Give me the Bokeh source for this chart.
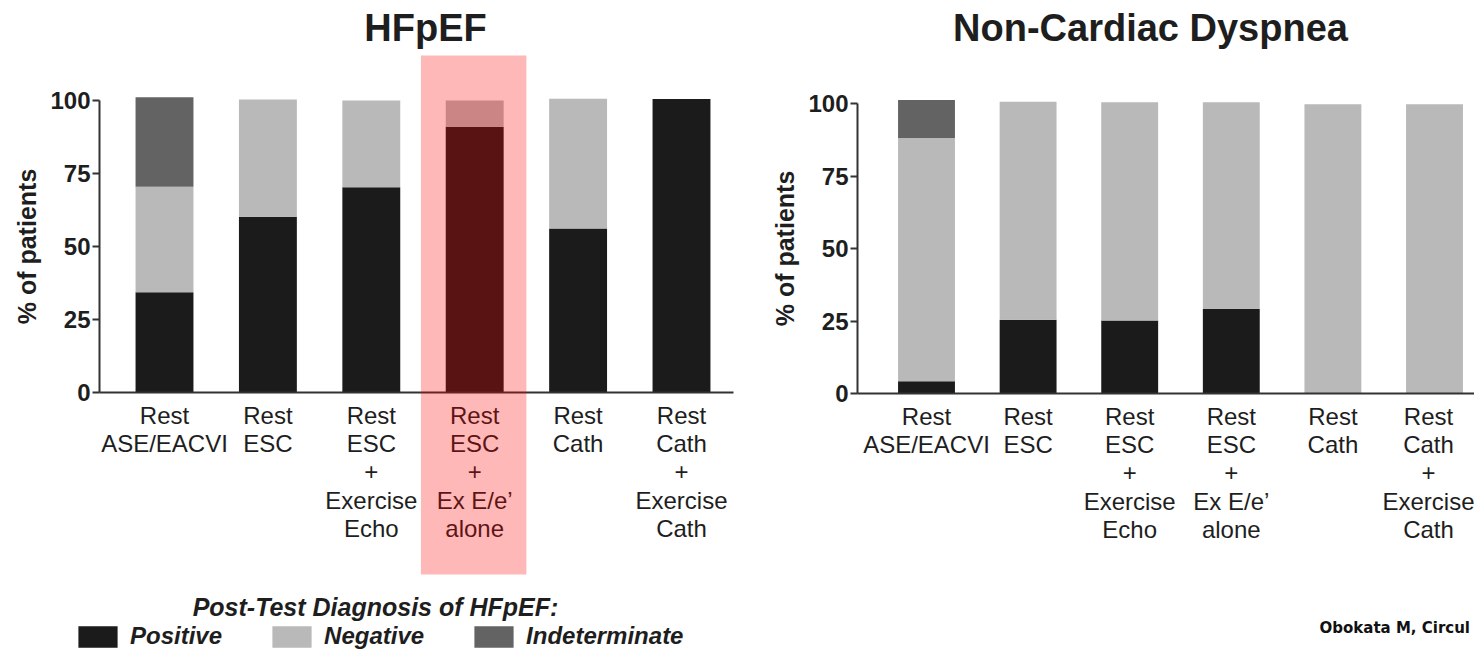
from bokeh.plotting import figure
from bokeh.layouts import row
from bokeh.models import (ColumnDataSource, FixedTicker, BoxAnnotation, Label,
                          Legend, LegendItem, Range1d)
from bokeh.embed import file_html
from bokeh.resources import INLINE

# ---------------- data ----------------
categories = [
    "Rest\nASE/EACVI",
    "Rest\nESC",
    "Rest\nESC\n+\nExercise\nEcho",
    "Rest\nESC\n+\nEx E/e\u2019\nalone",
    "Rest\nCath",
    "Rest\nCath\n+\nExercise\nCath",
]
series = ["Positive", "Negative", "Indeterminate"]
series_colors = ["#1b1b1b", "#b9b9b9", "#636363"]

hfpef_positive = [34.3, 60.2, 70.3, 91.0, 56.2, 100.5]
hfpef_negative = [36.2, 40.1, 29.7, 9.0, 44.4, 0.0]
hfpef_indeterminate = [30.6, 0.0, 0.0, 0.0, 0.0, 0.0]

ncd_positive = [4.2, 25.4, 25.2, 29.1, 0.0, 0.0]
ncd_negative = [83.9, 75.2, 75.2, 71.3, 99.7, 99.7]
ncd_indeterminate = [13.1, 0.0, 0.0, 0.0, 0.0, 0.0]

y_ticks = [0, 25, 50, 75, 100]
highlight_category = 3  # "Rest ESC + Ex E/e' alone" in the HFpEF panel

# ---------------- layout constants (pixels) ----------------
FONT = "Liberation Sans"
AXIS_COLOR = "#333333"
TEXT_COLOR = "#1e1e1e"
H = 650


class Geo:
    """Maps canvas pixels to data units for one panel."""
    def __init__(self, width, first_center_px, step_px, zero_px, px_per_unit):
        self.width, self.c0, self.step = width, first_center_px, step_px
        self.y0, self.ppu = zero_px, px_per_unit

    def x(self, px):
        return (px - self.c0) / self.step

    def y(self, px):
        return (self.y0 - px) / self.ppu


def make_panel(g, pos, neg, ind, axis_left_px, axis_right_px):
    xs = list(range(len(categories)))
    src = ColumnDataSource(dict(x=xs, Positive=pos, Negative=neg, Indeterminate=ind))
    p = figure(width=g.width, height=H, output_backend="svg", toolbar_location=None,
               x_range=Range1d(g.x(0), g.x(g.width)), y_range=Range1d(g.y(H), g.y(0)),
               min_border=0)
    p.outline_line_color = None
    p.grid.visible = False
    p.background_fill_color = "white"
    p.border_fill_color = "white"

    rs = p.vbar_stack(series, x="x", width=0.56, source=src,
                      fill_color=series_colors, line_color=None)

    # y axis (fixed at the left edge of the bar area)
    ya = p.yaxis[0]
    ya.fixed_location = g.x(axis_left_px)
    ya.ticker = FixedTicker(ticks=y_ticks)
    ya.bounds = (0, 100)
    ya.axis_line_width = 2
    ya.axis_line_color = AXIS_COLOR
    ya.major_tick_line_color = AXIS_COLOR
    ya.major_tick_line_width = 2
    ya.major_tick_out = 7
    ya.major_tick_in = 0
    ya.minor_tick_line_color = None
    ya.major_label_text_font = FONT
    ya.major_label_text_font_style = "bold"
    ya.major_label_text_font_size = "24px"
    ya.major_label_text_color = TEXT_COLOR
    ya.major_label_standoff = 2
    ya.axis_label = "% of patients"
    ya.axis_label_text_font = FONT
    ya.axis_label_text_font_style = "bold"
    ya.axis_label_text_font_size = "25px"
    ya.axis_label_text_color = TEXT_COLOR
    ya.axis_label_standoff = 6

    # x axis (fixed at y = 0)
    xa = p.xaxis[0]
    xa.fixed_location = 0
    xa.bounds = (g.x(axis_left_px), g.x(axis_right_px))
    xa.ticker = FixedTicker(ticks=xs)
    xa.major_label_overrides = {i: c for i, c in enumerate(categories)}
    xa.axis_line_width = 2
    xa.axis_line_color = AXIS_COLOR
    xa.major_tick_line_color = None
    xa.major_tick_out = 0
    xa.major_tick_in = 0
    xa.minor_tick_line_color = None
    xa.major_label_text_font = FONT
    xa.major_label_text_font_size = "24px"
    xa.major_label_text_color = TEXT_COLOR
    xa.major_label_text_line_height = 1.05
    xa.major_label_standoff = 9
    return p, rs


def title_label(g, text, center_px, baseline_px):
    return Label(x=g.x(center_px), y=g.y(baseline_px), text=text,
                 text_align="center", text_baseline="alphabetic",
                 text_font=FONT, text_font_style="bold", text_font_size="38px",
                 text_color=TEXT_COLOR)


# left panel canvas: page x 0..768 ; right panel canvas: page x 768..1474
gl = Geo(width=768, first_center_px=164, step_px=103.4, zero_px=392, px_per_unit=2.92)
gr = Geo(width=706, first_center_px=158, step_px=101.6, zero_px=393, px_per_unit=2.9)

left, rs_left = make_panel(gl, hfpef_positive, hfpef_negative, hfpef_indeterminate,
                           axis_left_px=99, axis_right_px=733)
right, rs_right = make_panel(gr, ncd_positive, ncd_negative, ncd_indeterminate,
                             axis_left_px=89, axis_right_px=706)

left.add_layout(title_label(gl, "HFpEF", 425, 27))
right.add_layout(title_label(gr, "Non-Cardiac Dyspnea", 382, 27))

# highlight box around the "Ex E/e' alone" category (HFpEF)
left.add_layout(BoxAnnotation(left=highlight_category - 0.52, right=highlight_category + 0.50,
                              top=gl.y(55), bottom=gl.y(574),
                              fill_color="#ff0000", fill_alpha=0.28,
                              line_color=None, level="overlay"))

# legend title + legend
left.add_layout(Label(x=gl.x(375), y=gl.y(606), text="Post-Test Diagnosis of HFpEF:",
                      text_align="center", text_baseline="alphabetic",
                      text_font=FONT, text_font_style="bold italic",
                      text_font_size="25px", text_color=TEXT_COLOR))

legend = Legend(items=[LegendItem(label=s, renderers=[r]) for s, r in zip(series, rs_left)],
                location=(73, 0), orientation="horizontal",
                glyph_width=49, glyph_height=27, label_height=27,
                label_standoff=8, spacing=45, padding=0, margin=0,
                border_line_alpha=0, background_fill_alpha=0,
                label_text_font=FONT, label_text_font_style="bold italic",
                label_text_font_size="24px", label_text_color=TEXT_COLOR)
left.add_layout(legend, "center")

# citation (at the right edge, as in the source)
right.add_layout(Label(x=gr.x(551), y=gr.y(627), text="Obokata M, Circul",
                       text_align="left", text_baseline="alphabetic",
                       text_font="DejaVu Sans", text_font_style="bold",
                       text_font_size="15px", text_color="#111111"))

layout = row(left, right)
open("out.html", "w").write(file_html(layout, INLINE))
